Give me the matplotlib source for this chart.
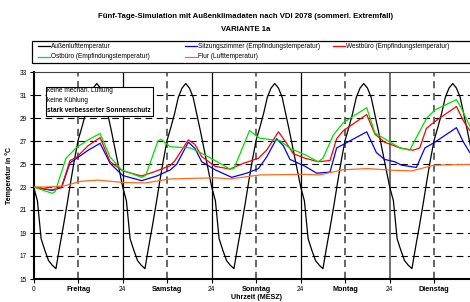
import matplotlib
matplotlib.use("Agg")
import matplotlib.pyplot as plt
from matplotlib.lines import Line2D
from matplotlib.patches import Rectangle

plt.rcParams['font.family'] = ['Liberation Sans', 'DejaVu Sans']

# Außenlufttemperatur, stündlich 0..120 h
hours = list(range(121))
aussen = [
    23.0, 21.8, 18.5, 17.5, 16.6, 16.2, 15.9, 17.8, 19.6, 21.5, 23.5, 25.4,
    27.1, 28.2, 29.4, 30.8, 31.6, 32.0, 31.6, 30.8, 29.3, 27.8, 26.2, 24.6,
    23.0, 21.8, 18.5, 17.5, 16.6, 16.2, 15.9, 17.8, 19.6, 21.5, 23.5, 25.4,
    27.1, 28.2, 29.4, 30.8, 31.6, 32.0, 31.6, 30.8, 29.3, 27.8, 26.2, 24.6,
    23.0, 21.8, 18.5, 17.5, 16.6, 16.2, 15.9, 17.8, 19.6, 21.5, 23.5, 25.4,
    27.1, 28.2, 29.4, 30.8, 31.6, 32.0, 31.6, 30.8, 29.3, 27.8, 26.2, 24.6,
    23.0, 21.8, 18.5, 17.5, 16.6, 16.2, 15.9, 17.8, 19.6, 21.5, 23.5, 25.4,
    27.1, 28.2, 29.4, 30.8, 31.6, 32.0, 31.6, 30.8, 29.3, 27.8, 26.2, 24.6,
    23.0, 21.8, 18.5, 17.5, 16.6, 16.2, 15.9, 17.8, 19.6, 21.5, 23.5, 25.4,
    27.1, 28.2, 29.4, 30.8, 31.6, 32.0, 31.6, 30.8, 29.3, 27.8, 26.2, 24.6,
    23.0,
]

# Sitzungszimmer (blau)
t_sitz = [0, 2.5, 5, 7.5, 9.8, 11.6, 14.7, 17.9, 20.6, 24, 29.1, 33.2, 36.8,
          38.6, 41.7, 43.5, 45.3, 48.9, 53.4, 57.4, 60.6, 62.8, 65.5, 67.3,
          69.1, 73.2, 76.3, 79.9, 81.7, 83.5, 89.8, 92.4, 94.6, 97.3, 99.2,
          103.2, 105.5, 108.2, 114, 115.8, 117.6, 120]
sitz = [23.0, 22.85, 22.7, 22.95, 25.1, 25.5, 26.2, 26.8, 25.06, 24.0, 23.55,
        23.96, 24.48, 25.0, 26.9, 26.35, 25.2, 24.5, 23.84, 24.2, 24.6, 25.6,
        27.2, 26.6, 25.4, 24.8, 24.2, 24.3, 26.4, 26.7, 27.8, 26.0, 25.4, 25.2,
        24.9, 24.7, 26.4, 26.9, 28.16, 26.95, 26.0, 25.6]

# Westbüro (rot)
t_west = [0, 2.5, 5, 7.5, 9.8, 11.6, 14.7, 17.9, 20.6, 24, 29.1, 32.3, 36.8,
          38.1, 41.7, 43.5, 45.3, 48.9, 52.9, 56.5, 60.6, 62.8, 66, 68.2, 70,
          73.2, 76.7, 79.9, 81.7, 83.5, 89.8, 92, 94.6, 98.7, 102.3, 104.1,
          105.9, 108.2, 114, 115.8, 117.6, 120]
west = [23.0, 22.85, 22.75, 23.0, 25.3, 25.6, 26.6, 27.3, 25.2, 24.4, 23.96,
        24.3, 24.85, 25.3, 27.1, 26.7, 25.65, 24.8, 24.56, 25.05, 25.5, 26.2,
        27.8, 26.8, 25.9, 25.5, 25.2, 25.3, 27.2, 27.9, 29.3, 27.6, 26.9, 26.4,
        26.2, 26.4, 28.1, 28.7, 30.0, 28.8, 27.9, 27.4]

# Ostbüro (grün)
t_ost = [0, 5, 5.8, 8.7, 11.6, 14.7, 17.9, 20.6, 23.7, 29.1, 30.2, 33.5, 34.3,
         36.8, 42.2, 44.9, 48.9, 52.9, 54.0, 58.2, 61, 66.4, 69.1, 73.2, 76.7,
         78, 80.8, 83.5, 89.8, 92, 94.6, 98.7, 101.4, 104, 106, 108.2, 114,
         115.4, 117.6, 120]
ost = [23.0, 22.45, 22.6, 25.5, 26.45, 27.1, 27.65, 25.6, 24.5, 23.84, 24.0,
       27.0, 27.15, 26.5, 26.4, 26.0, 25.3, 24.56, 24.6, 27.9, 27.24, 27.03,
       26.36, 25.8, 25.2, 25.5, 27.52, 28.6, 29.9, 27.7, 27.2, 26.4, 26.2,
       27.8, 29.0, 29.7, 30.6, 29.8, 28.3, 27.8]

# Flur (orange)
t_flur = [0, 4, 8.3, 12.8, 17.3, 23.9, 30, 36.8, 48.9, 53, 61, 73.2, 77, 83.5,
          90, 97.3, 102, 108, 117.6, 120]
flur = [23.0, 23.0, 23.1, 23.5, 23.6, 23.4, 23.35, 23.7, 23.8, 23.7, 24.05,
        24.1, 24.05, 24.5, 24.6, 24.45, 24.4, 24.9, 24.96, 24.96]

x_ticks = [0, 12, 24, 36, 48, 60, 72, 84, 96, 108]
x_labels = ['0', 'Freitag', '24', 'Samstag', '24', 'Sonntag', '24', 'Montag',
            '24', 'Dienstag']
y_ticks = list(range(15, 34, 2))

W, H = 470, 302
fig = plt.figure(figsize=(W / 100, H / 100), dpi=100)
ax = fig.add_axes([33.7 / W, 23 / H, 445 / W, 207 / H])
ax.set_xlim(0, 120)
ax.set_ylim(15, 33)

# Raster
for y in y_ticks[1:-1]:
    ax.axhline(y, color='black', lw=0.8, dashes=(6, 4), zorder=1)
for x in x_ticks[1::2]:
    ax.axvline(x, color='#5a5a5a', lw=1.3, dashes=(4, 2.6), zorder=1)
for x in [24, 48, 72]:
    ax.axvline(x, color='black', lw=0.9, zorder=1)
ax.axvline(96, color='#707070', lw=1.4, zorder=1)

ax.plot(hours, aussen, color='black', lw=0.9, zorder=3)
ax.plot(t_sitz, sitz, color='#0000ff', lw=0.9, zorder=3)
ax.plot(t_west, west, color='#ff0000', lw=0.9, zorder=3)
ax.plot(t_ost, ost, color='#00e000', lw=0.9, zorder=3)
ax.plot(t_flur, flur, color='#ff6a1a', lw=0.9, zorder=3)

for s in ['left', 'bottom']:
    ax.spines[s].set_linewidth(1.5)
ax.spines['top'].set_linewidth(0.8)
ax.spines['top'].set_color('#404040')
ax.spines['right'].set_visible(False)

ax.set_yticks(y_ticks)
ax.set_xticks(x_ticks)
ax.set_xticklabels(x_labels)
ax.tick_params(axis='both', direction='out', length=3, width=0.8,
               labelsize=4.7, pad=2)
for lbl in ax.get_xticklabels():
    if not lbl.get_text().isdigit():
        lbl.set_fontweight('bold')
        lbl.set_fontsize(5.2)

ax.set_ylabel('Temperatur in °C', fontsize=5.1, fontweight='bold', labelpad=5)
ax.set_xlabel('Uhrzeit (MESZ)', fontsize=5.1, fontweight='bold', labelpad=0.5)

# Kasten mit Randbedingungen
ax.add_patch(Rectangle((3.3, 29.17), 28.9, 2.53, facecolor='white',
                       edgecolor='black', lw=0.8, zorder=5))
ax.text(3.6, 31.35, 'keine mechan. Lüftung', fontsize=4.7, va='center', zorder=6)
ax.text(3.6, 30.53, 'keine Kühlung', fontsize=4.7, va='center', zorder=6)
ax.text(3.6, 29.66, 'stark verbesserter Sonnenschutz', fontsize=4.7,
        fontweight='bold', va='center', zorder=6)

# Titel
fig.text(246 / W, 1 - 17 / H,
         'Fünf-Tage-Simulation mit Außenklimadaten nach VDI 2078 (sommerl. Extremfall)',
         ha='center', va='center', fontsize=5.6, fontweight='bold')
fig.text(246 / W, 1 - 29.5 / H, 'VARIANTE 1a', ha='center', va='center',
         fontsize=5.6, fontweight='bold')

# Legende
fig.add_artist(Rectangle((31.7 / W, 1 - 63.3 / H), 1.0, 22.3 / H,
                         transform=fig.transFigure, facecolor='white',
                         edgecolor='black', lw=0.9, clip_on=False))
legend_items = [
    (38, 46, 'black', 'Außenlufttemperatur'),
    (185, 46, '#0000ff', 'Sitzungszimmer (Empfindungstemperatur)'),
    (333, 46, '#ff0000', 'Westbüro (Empfindungstemperatur)'),
    (38, 57, '#00e000', 'Ostbüro (Empfindungstemperatur)'),
    (185, 57, '#ff6a1a', 'Flur (Lufttemperatur)'),
]
for px, py, col, txt in legend_items:
    fig.add_artist(Line2D([px / W, (px + 12) / W], [1 - py / H, 1 - py / H],
                          transform=fig.transFigure, color=col, lw=0.9))
    fig.text((px + 13) / W, 1 - py / H, txt, fontsize=4.7, va='center')

fig.savefig('out.png', dpi=100)
